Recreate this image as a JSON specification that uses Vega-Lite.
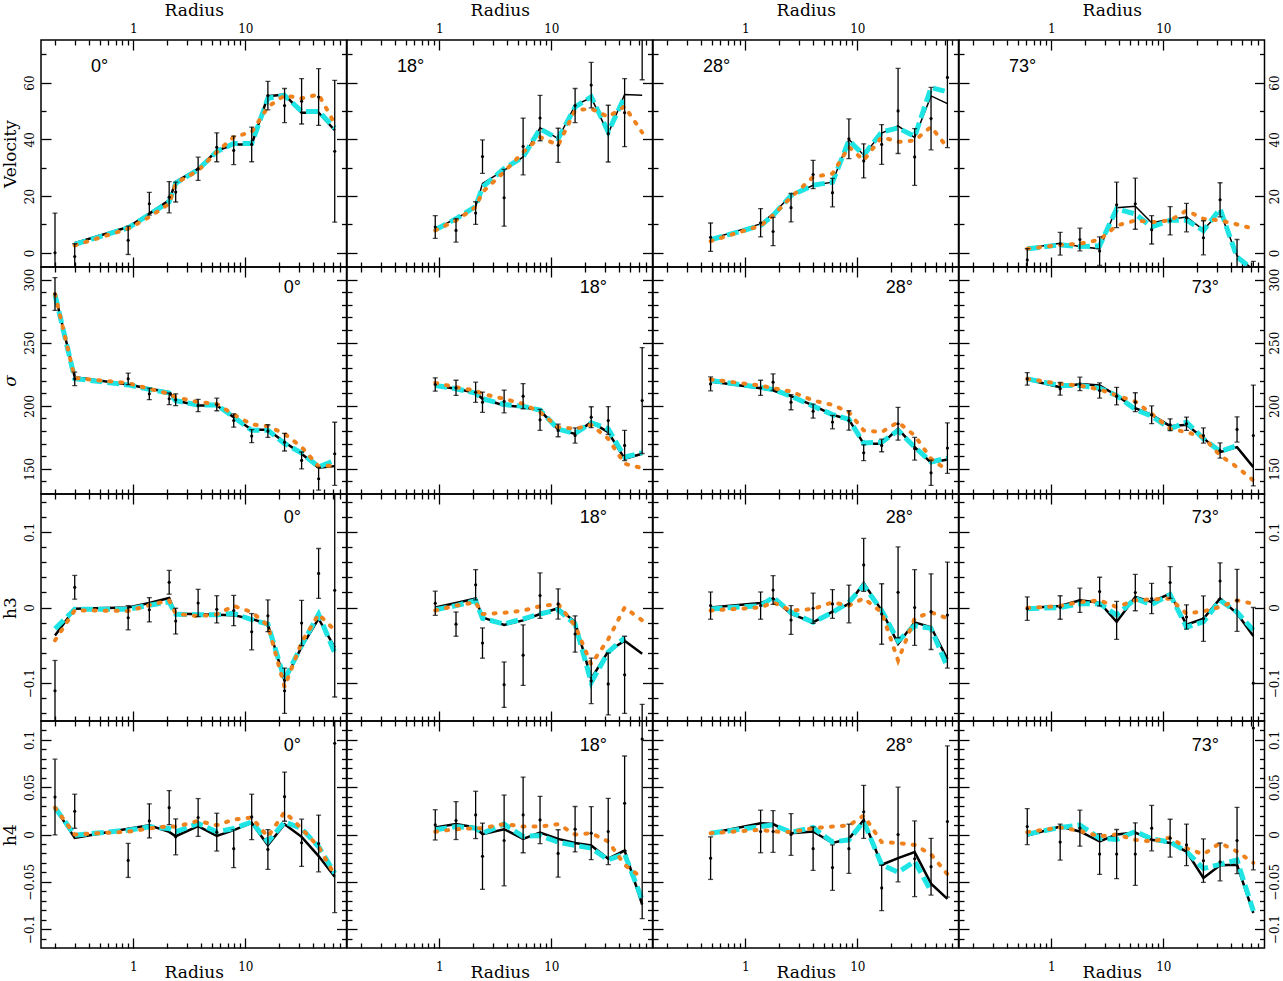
{
"$schema": "https://vega.github.io/schema/vega-lite/v6.json",
"background": "white",
"padding": {"left": 0, "top": 0, "right": 0, "bottom": 0},
"columns": 4,
"spacing": 0,
"bounds": "flush",
"datasets": {"d": [
{"a":"0","q":"v","r":0.2,"y":0,"e":14,"k":null,"c":null,"o":null},
{"a":"0","q":"v","r":0.3,"y":-1.3,"e":4.5,"k":3.4,"c":3.0,"o":2.6},
{"a":"0","q":"v","r":0.9,"y":4.4,"e":5,"k":9.1,"c":8.8,"o":8.5},
{"a":"0","q":"v","r":1.39,"y":17.3,"e":4,"k":13.8,"c":13.5,"o":12.6},
{"a":"0","q":"v","r":2.09,"y":19.6,"e":5.5,"k":18.5,"c":18,"o":17.3},
{"a":"0","q":"v","r":2.39,"y":21.4,"e":3.5,"k":25,"c":24.5,"o":24.5},
{"a":"0","q":"v","r":3.79,"y":29.6,"e":4.1,"k":29.6,"c":29.3,"o":29},
{"a":"0","q":"v","r":5.56,"y":37.2,"e":5.1,"k":35.9,"c":35.7,"o":35.5},
{"a":"0","q":"v","r":7.88,"y":36.1,"e":5,"k":38.2,"c":38.5,"o":40.8},
{"a":"0","q":"v","r":11.4,"y":38.2,"e":6.1,"k":38.2,"c":38.5,"o":42.6},
{"a":"0","q":"v","r":15.9,"y":55.4,"e":5,"k":55.2,"c":54.5,"o":51.4},
{"a":"0","q":"v","r":22.4,"y":51.9,"e":6,"k":55.8,"c":55.5,"o":55.5},
{"a":"0","q":"v","r":31.8,"y":53.4,"e":8,"k":49.4,"c":49.8,"o":54.4},
{"a":"0","q":"v","r":45.1,"y":54.9,"e":10,"k":49.4,"c":49.8,"o":55.8},
{"a":"0","q":"v","r":62.8,"y":35.8,"e":25,"k":43.2,"c":44,"o":45.5},
{"a":"0","q":"s","r":0.2,"y":288.6,"e":13,"k":288.6,"c":288,"o":288.6},
{"a":"0","q":"s","r":0.3,"y":221.3,"e":5.3,"k":222.6,"c":221.5,"o":222},
{"a":"0","q":"s","r":0.9,"y":221.3,"e":4.6,"k":216.8,"c":216.5,"o":217.9},
{"a":"0","q":"s","r":1.39,"y":209.4,"e":4.6,"k":213.4,"c":213,"o":213.4},
{"a":"0","q":"s","r":2.09,"y":205.5,"e":4.6,"k":210.7,"c":210,"o":209.4},
{"a":"0","q":"s","r":2.39,"y":204.7,"e":4.7,"k":204.1,"c":204,"o":206.8},
{"a":"0","q":"s","r":3.79,"y":200.2,"e":4.9,"k":200.2,"c":200.5,"o":202.8},
{"a":"0","q":"s","r":5.56,"y":201,"e":5,"k":200.2,"c":200.5,"o":201.5},
{"a":"0","q":"s","r":7.88,"y":188.3,"e":5.3,"k":190.9,"c":191,"o":193},
{"a":"0","q":"s","r":11.4,"y":175.9,"e":5.2,"k":180.9,"c":180.5,"o":185.1},
{"a":"0","q":"s","r":15.9,"y":179.9,"e":5,"k":180.9,"c":180.5,"o":183.8},
{"a":"0","q":"s","r":22.4,"y":171.1,"e":7,"k":171.1,"c":170,"o":177.7},
{"a":"0","q":"s","r":31.8,"y":156.6,"e":6.7,"k":161.9,"c":162.5,"o":167.2},
{"a":"0","q":"s","r":45.1,"y":142.1,"e":9,"k":150.8,"c":151.5,"o":151.9},
{"a":"0","q":"s","r":62.8,"y":161.9,"e":25,"k":152.1,"c":156.6,"o":152.7},
{"a":"0","q":"h3","r":0.2,"y":-0.11,"e":0.04,"k":-0.0369,"c":-0.028,"o":-0.0435},
{"a":"0","q":"h3","r":0.3,"y":0.0267,"e":0.0157,"k":-0.0015,"c":-0.0024,"o":-0.0037},
{"a":"0","q":"h3","r":0.9,"y":-0.0135,"e":0.016,"k":0,"c":-0.0024,"o":-0.0046},
{"a":"0","q":"h3","r":1.39,"y":-0.003,"e":0.016,"k":0.006,"c":0.003,"o":0.003},
{"a":"0","q":"h3","r":2.09,"y":0.0333,"e":0.0157,"k":0.0126,"c":0.0073,"o":0.0095},
{"a":"0","q":"h3","r":2.39,"y":-0.018,"e":0.017,"k":-0.008,"c":-0.009,"o":-0.008},
{"a":"0","q":"h3","r":3.79,"y":0.006,"e":0.018,"k":-0.009,"c":-0.0095,"o":-0.0117},
{"a":"0","q":"h3","r":5.56,"y":-0.0024,"e":0.018,"k":-0.0095,"c":-0.0095,"o":-0.009},
{"a":"0","q":"h3","r":7.88,"y":-0.004,"e":0.02,"k":-0.0104,"c":-0.008,"o":0.002},
{"a":"0","q":"h3","r":11.4,"y":-0.032,"e":0.024,"k":-0.015,"c":-0.016,"o":-0.006},
{"a":"0","q":"h3","r":15.9,"y":-0.011,"e":0.021,"k":-0.022,"c":-0.022,"o":-0.0236},
{"a":"0","q":"h3","r":22.4,"y":-0.11,"e":0.03,"k":-0.097,"c":-0.0955,"o":-0.105},
{"a":"0","q":"h3","r":31.8,"y":-0.0205,"e":0.03,"k":-0.052,"c":-0.05,"o":-0.046},
{"a":"0","q":"h3","r":45.1,"y":0.045,"e":0.033,"k":-0.0148,"c":-0.009,"o":-0.009},
{"a":"0","q":"h3","r":62.8,"y":0.0227,"e":0.141,"k":-0.053,"c":-0.06,"o":-0.03},
{"a":"0","q":"h4","r":0.2,"y":0.0396,"e":0.04,"k":0.0284,"c":0.0284,"o":0.0284},
{"a":"0","q":"h4","r":0.3,"y":0.0246,"e":0.018,"k":-0.0035,"c":-0.0007,"o":0},
{"a":"0","q":"h4","r":0.9,"y":-0.0274,"e":0.018,"k":0.006,"c":0.0046,"o":0.003},
{"a":"0","q":"h4","r":1.39,"y":0.0144,"e":0.018,"k":0.0098,"c":0.0081,"o":0.0063},
{"a":"0","q":"h4","r":2.09,"y":0.0284,"e":0.018,"k":0.0028,"c":0.0063,"o":0.0088},
{"a":"0","q":"h4","r":2.39,"y":-0.0025,"e":0.019,"k":-0.0018,"c":0.0028,"o":0.0081},
{"a":"0","q":"h4","r":3.79,"y":0.018,"e":0.02,"k":0.0088,"c":0.0116,"o":0.0144},
{"a":"0","q":"h4","r":5.56,"y":0.0025,"e":0.02,"k":-0.0014,"c":0.0028,"o":0.0098},
{"a":"0","q":"h4","r":7.88,"y":-0.015,"e":0.02,"k":0.0046,"c":0.0063,"o":0.0158},
{"a":"0","q":"h4","r":11.4,"y":0.0186,"e":0.024,"k":0.0123,"c":0.0133,"o":0.018},
{"a":"0","q":"h4","r":15.9,"y":-0.0158,"e":0.021,"k":-0.0112,"c":-0.0077,"o":-0.0025},
{"a":"0","q":"h4","r":22.4,"y":0.04,"e":0.026,"k":0.0109,"c":0.0133,"o":0.0239},
{"a":"0","q":"h4","r":31.8,"y":-0.0088,"e":0.025,"k":-0.0025,"c":0.0063,"o":0.0063},
{"a":"0","q":"h4","r":45.1,"y":-0.0095,"e":0.03,"k":-0.0228,"c":-0.013,"o":-0.013},
{"a":"0","q":"h4","r":62.8,"y":0.0965,"e":0.179,"k":-0.0446,"c":-0.041,"o":-0.043},
{"a":"18","q":"v","r":0.92,"y":9.1,"e":4,"k":8.5,"c":8.1,"o":7.9},
{"a":"18","q":"v","r":1.41,"y":7.9,"e":4.1,"k":12,"c":12,"o":11.4},
{"a":"18","q":"v","r":2.11,"y":14,"e":4,"k":16.1,"c":16.3,"o":16.1},
{"a":"18","q":"v","r":2.43,"y":33.9,"e":5.9,"k":24.4,"c":23.2,"o":21.4},
{"a":"18","q":"v","r":3.79,"y":19.4,"e":10,"k":29.1,"c":29.7,"o":28.5},
{"a":"18","q":"v","r":5.6,"y":37.5,"e":10,"k":33.8,"c":33.8,"o":35.5},
{"a":"18","q":"v","r":7.93,"y":47.5,"e":8,"k":44.1,"c":43.7,"o":40.8},
{"a":"18","q":"v","r":11.5,"y":37.9,"e":6,"k":40.2,"c":40.2,"o":37.9},
{"a":"18","q":"v","r":16.3,"y":51.9,"e":6,"k":52,"c":51.4,"o":50.2},
{"a":"18","q":"v","r":22.7,"y":59.1,"e":8,"k":54.7,"c":55,"o":50.8},
{"a":"18","q":"v","r":32.2,"y":42,"e":10,"k":42,"c":42.6,"o":47.9},
{"a":"18","q":"v","r":45.1,"y":49.4,"e":12,"k":55.8,"c":55,"o":51.6},
{"a":"18","q":"v","r":64.7,"y":80,"e":19,"k":55.5,"c":null,"o":42.4},
{"a":"18","q":"s","r":0.92,"y":216.8,"e":5.3,"k":216,"c":216,"o":218.1},
{"a":"18","q":"s","r":1.41,"y":214.2,"e":6,"k":213.4,"c":213.5,"o":214.7},
{"a":"18","q":"s","r":2.11,"y":210.7,"e":8,"k":210.2,"c":210,"o":212},
{"a":"18","q":"s","r":2.43,"y":202.8,"e":8,"k":205.5,"c":205.5,"o":209.4},
{"a":"18","q":"s","r":3.79,"y":203.4,"e":9,"k":200.2,"c":201,"o":205.5},
{"a":"18","q":"s","r":5.6,"y":207.6,"e":10,"k":198.9,"c":199.5,"o":201.5},
{"a":"18","q":"s","r":7.93,"y":188.8,"e":8.3,"k":196.2,"c":196.5,"o":194.9},
{"a":"18","q":"s","r":11.5,"y":180.4,"e":5,"k":181.2,"c":181.5,"o":183},
{"a":"18","q":"s","r":16.3,"y":176.4,"e":6,"k":177.7,"c":178,"o":181.7},
{"a":"18","q":"s","r":22.7,"y":190.9,"e":8.3,"k":187,"c":186.5,"o":184.9},
{"a":"18","q":"s","r":32.2,"y":188.3,"e":11,"k":179.1,"c":181.7,"o":173.8},
{"a":"18","q":"s","r":45.1,"y":168.5,"e":12,"k":158,"c":159.3,"o":154},
{"a":"18","q":"s","r":64.7,"y":204.1,"e":42,"k":161.9,"c":162.7,"o":150.5},
{"a":"18","q":"h3","r":0.92,"y":0.0056,"e":0.016,"k":0,"c":-0.003,"o":-0.004},
{"a":"18","q":"h3","r":1.41,"y":-0.022,"e":0.016,"k":0.006,"c":0.0025,"o":0.0025},
{"a":"18","q":"h3","r":2.11,"y":0.03,"e":0.02,"k":0.012,"c":0.009,"o":0.0069},
{"a":"18","q":"h3","r":2.43,"y":-0.047,"e":0.02,"k":-0.013,"c":-0.0143,"o":-0.0086},
{"a":"18","q":"h3","r":3.79,"y":-0.102,"e":0.03,"k":-0.023,"c":-0.0218,"o":-0.007},
{"a":"18","q":"h3","r":5.6,"y":-0.063,"e":0.04,"k":-0.017,"c":-0.015,"o":-0.004},
{"a":"18","q":"h3","r":7.93,"y":0.0157,"e":0.03,"k":-0.0086,"c":-0.0086,"o":0.0016},
{"a":"18","q":"h3","r":11.5,"y":0.0047,"e":0.02,"k":-0.001,"c":-0.0028,"o":0.0047},
{"a":"18","q":"h3","r":16.3,"y":-0.035,"e":0.024,"k":-0.019,"c":-0.022,"o":-0.024},
{"a":"18","q":"h3","r":22.7,"y":-0.097,"e":0.03,"k":-0.094,"c":-0.099,"o":-0.075},
{"a":"18","q":"h3","r":32.2,"y":-0.101,"e":0.041,"k":-0.058,"c":-0.059,"o":-0.042},
{"a":"18","q":"h3","r":45.1,"y":-0.089,"e":0.051,"k":-0.044,"c":-0.04,"o":0},
{"a":"18","q":"h3","r":64.7,"y":-0.2,"e":0.072,"k":-0.061,"c":null,"o":-0.017},
{"a":"18","q":"h4","r":0.92,"y":0.0102,"e":0.016,"k":0.0074,"c":0.005,"o":0.003},
{"a":"18","q":"h4","r":1.41,"y":0.0147,"e":0.02,"k":0.011,"c":0.0084,"o":0.0056},
{"a":"18","q":"h4","r":2.11,"y":0.0207,"e":0.025,"k":0.0074,"c":0.0067,"o":0.0067},
{"a":"18","q":"h4","r":2.43,"y":-0.023,"e":0.035,"k":0.0004,"c":0.0014,"o":0.0067},
{"a":"18","q":"h4","r":3.79,"y":-0.0063,"e":0.048,"k":0.0056,"c":0.011,"o":0.011},
{"a":"18","q":"h4","r":5.6,"y":0.0207,"e":0.04,"k":-0.0046,"c":-0.0021,"o":0.0084},
{"a":"18","q":"h4","r":7.93,"y":0.0154,"e":0.025,"k":0.002,"c":-0.0011,"o":0.0084},
{"a":"18","q":"h4","r":11.5,"y":-0.02,"e":0.025,"k":-0.0046,"c":-0.0081,"o":0.011},
{"a":"18","q":"h4","r":16.3,"y":0.0056,"e":0.024,"k":-0.009,"c":-0.0116,"o":0},
{"a":"18","q":"h4","r":22.7,"y":0.0014,"e":0.028,"k":-0.0116,"c":-0.0144,"o":0.0014},
{"a":"18","q":"h4","r":32.2,"y":0.0032,"e":0.035,"k":-0.0256,"c":-0.0267,"o":-0.0074},
{"a":"18","q":"h4","r":45.1,"y":0.033,"e":0.05,"k":-0.017,"c":-0.0207,"o":-0.032},
{"a":"18","q":"h4","r":64.7,"y":0.101,"e":0.19,"k":-0.074,"c":-0.069,"o":-0.046},
{"a":"28","q":"v","r":0.49,"y":5.5,"e":5,"k":4.9,"c":4.6,"o":4.1},
{"a":"28","q":"v","r":1.37,"y":10.6,"e":5,"k":10.2,"c":9.6,"o":9.6},
{"a":"28","q":"v","r":1.77,"y":7.5,"e":5,"k":13.8,"c":13.2,"o":13.2},
{"a":"28","q":"v","r":2.56,"y":15.9,"e":5,"k":20.2,"c":20.2,"o":19.6},
{"a":"28","q":"v","r":4.03,"y":27.6,"e":5,"k":23.8,"c":23.8,"o":26.7},
{"a":"28","q":"v","r":6.0,"y":21.2,"e":5,"k":24.9,"c":24.9,"o":27.9},
{"a":"28","q":"v","r":8.41,"y":40.2,"e":7,"k":40,"c":39.6,"o":37.3},
{"a":"28","q":"v","r":11.4,"y":32.4,"e":6,"k":34.4,"c":34.4,"o":32.6},
{"a":"28","q":"v","r":16.5,"y":38.2,"e":7,"k":42.2,"c":42.6,"o":40.8},
{"a":"28","q":"v","r":23.1,"y":50,"e":15,"k":44.7,"c":44,"o":39.1},
{"a":"28","q":"v","r":32.5,"y":33.8,"e":10,"k":40.6,"c":41,"o":39.6},
{"a":"28","q":"v","r":45.5,"y":47.3,"e":11,"k":55.3,"c":58.2,"o":44.4},
{"a":"28","q":"v","r":63.7,"y":61.8,"e":24.7,"k":52.6,"c":56.7,"o":37.1},
{"a":"28","q":"s","r":0.49,"y":217.3,"e":5.5,"k":219.2,"c":220,"o":220.8},
{"a":"28","q":"s","r":1.37,"y":214.2,"e":6,"k":213.9,"c":214.5,"o":216},
{"a":"28","q":"s","r":1.77,"y":218.7,"e":6.5,"k":212.1,"c":212.9,"o":213.9},
{"a":"28","q":"s","r":2.56,"y":202.8,"e":6,"k":207.6,"c":207.6,"o":211.3},
{"a":"28","q":"s","r":4.03,"y":195.7,"e":5.5,"k":200.2,"c":199.7,"o":204.1},
{"a":"28","q":"s","r":6.0,"y":187,"e":5.3,"k":192.8,"c":193,"o":200.7},
{"a":"28","q":"s","r":8.41,"y":188.3,"e":7.7,"k":189.1,"c":189.1,"o":194.9},
{"a":"28","q":"s","r":11.4,"y":162.7,"e":6.3,"k":169.8,"c":170.4,"o":180.4},
{"a":"28","q":"s","r":16.5,"y":168.5,"e":5,"k":169.8,"c":171.1,"o":179.1},
{"a":"28","q":"s","r":23.1,"y":185.7,"e":13,"k":181.7,"c":180.4,"o":187},
{"a":"28","q":"s","r":32.5,"y":165.9,"e":9,"k":167.2,"c":167.2,"o":176.4},
{"a":"28","q":"s","r":45.5,"y":146.8,"e":10,"k":154.8,"c":155.4,"o":158},
{"a":"28","q":"s","r":63.7,"y":166.4,"e":20,"k":157.4,"c":158.5,"o":148.7},
{"a":"28","q":"h3","r":0.49,"y":0.0025,"e":0.018,"k":0,"c":-0.002,"o":-0.004},
{"a":"28","q":"h3","r":1.37,"y":0.0025,"e":0.018,"k":0.006,"c":0.0025,"o":0},
{"a":"28","q":"h3","r":1.77,"y":0.023,"e":0.019,"k":0.012,"c":0.0135,"o":0.0069},
{"a":"28","q":"h3","r":2.56,"y":-0.0166,"e":0.019,"k":-0.0086,"c":-0.0064,"o":-0.004},
{"a":"28","q":"h3","r":4.03,"y":-0.001,"e":0.02,"k":-0.0196,"c":-0.0196,"o":-0.002},
{"a":"28","q":"h3","r":6.0,"y":0.0047,"e":0.019,"k":-0.0055,"c":-0.0064,"o":0.0069},
{"a":"28","q":"h3","r":8.41,"y":0.0047,"e":0.025,"k":0.0047,"c":0.0069,"o":0.0025},
{"a":"28","q":"h3","r":11.4,"y":0.0563,"e":0.035,"k":0.0325,"c":0.029,"o":0.0122},
{"a":"28","q":"h3","r":16.5,"y":-0.0086,"e":0.04,"k":-0.004,"c":-0.004,"o":-0.0064},
{"a":"28","q":"h3","r":23.1,"y":0.02,"e":0.06,"k":-0.048,"c":-0.044,"o":-0.07},
{"a":"28","q":"h3","r":32.5,"y":0,"e":0.05,"k":-0.0196,"c":-0.024,"o":-0.0143},
{"a":"28","q":"h3","r":45.5,"y":-0.0055,"e":0.05,"k":-0.026,"c":-0.0276,"o":-0.0064},
{"a":"28","q":"h3","r":63.7,"y":-0.01,"e":0.07,"k":-0.068,"c":-0.079,"o":-0.0143},
{"a":"28","q":"h4","r":0.49,"y":-0.025,"e":0.0225,"k":0.0014,"c":0.0014,"o":0.0014},
{"a":"28","q":"h4","r":1.37,"y":0.0032,"e":0.0225,"k":0.012,"c":0.0084,"o":0.005},
{"a":"28","q":"h4","r":1.77,"y":0.0032,"e":0.022,"k":0.011,"c":0.0102,"o":0.0032},
{"a":"28","q":"h4","r":2.56,"y":0,"e":0.022,"k":0.0014,"c":0.0025,"o":0.0025},
{"a":"28","q":"h4","r":4.03,"y":-0.015,"e":0.023,"k":0.0032,"c":0.0074,"o":0.0067},
{"a":"28","q":"h4","r":6.0,"y":-0.035,"e":0.024,"k":-0.009,"c":-0.008,"o":0.0084},
{"a":"28","q":"h4","r":8.41,"y":-0.015,"e":0.026,"k":-0.0046,"c":-0.0056,"o":0.0095},
{"a":"28","q":"h4","r":11.4,"y":0.024,"e":0.028,"k":0.0154,"c":0.0137,"o":0.02},
{"a":"28","q":"h4","r":16.5,"y":-0.0565,"e":0.024,"k":-0.032,"c":-0.032,"o":-0.008},
{"a":"28","q":"h4","r":23.1,"y":0,"e":0.05,"k":-0.025,"c":-0.04,"o":-0.009},
{"a":"28","q":"h4","r":32.5,"y":-0.0256,"e":0.04,"k":-0.0186,"c":-0.0284,"o":-0.011},
{"a":"28","q":"h4","r":45.5,"y":-0.034,"e":0.03,"k":-0.052,"c":-0.06,"o":-0.021},
{"a":"28","q":"h4","r":63.7,"y":0.0137,"e":0.08,"k":-0.068,"c":null,"o":-0.042},
{"a":"73","q":"v","r":0.61,"y":-2.5,"e":4,"k":1.6,"c":1.4,"o":1.4},
{"a":"73","q":"v","r":1.2,"y":3.2,"e":4,"k":3.4,"c":2.8,"o":2.8},
{"a":"73","q":"v","r":1.8,"y":4.7,"e":4,"k":2.2,"c":2.2,"o":3.2},
{"a":"73","q":"v","r":2.7,"y":0.6,"e":5,"k":1.4,"c":2.5,"o":4.6},
{"a":"73","q":"v","r":3.83,"y":16.9,"e":8,"k":15.9,"c":15.5,"o":9.6},
{"a":"73","q":"v","r":5.62,"y":17.3,"e":9,"k":16.4,"c":13.7,"o":11.4},
{"a":"73","q":"v","r":7.87,"y":8.1,"e":5,"k":10.6,"c":9.1,"o":10.8},
{"a":"73","q":"v","r":11.5,"y":11.3,"e":5,"k":11.8,"c":11.5,"o":11.4},
{"a":"73","q":"v","r":16.1,"y":12.4,"e":5,"k":12.6,"c":11.5,"o":14.9},
{"a":"73","q":"v","r":22.8,"y":5.3,"e":6,"k":8.1,"c":7.8,"o":12},
{"a":"73","q":"v","r":32.1,"y":18.7,"e":6,"k":14.4,"c":15.5,"o":11.4},
{"a":"73","q":"v","r":45.5,"y":-6,"e":10.7,"k":-1,"c":-1.5,"o":10},
{"a":"73","q":"v","r":63.6,"y":-6,"e":3,"k":-6,"c":-6,"o":8.5},
{"a":"73","q":"s","r":0.61,"y":221.3,"e":5,"k":220.8,"c":221.3,"o":221.3},
{"a":"73","q":"s","r":1.2,"y":213.4,"e":5,"k":214.7,"c":216,"o":217.3},
{"a":"73","q":"s","r":1.8,"y":217.3,"e":5.3,"k":217.3,"c":216,"o":216},
{"a":"73","q":"s","r":2.7,"y":212.1,"e":6,"k":216,"c":213.9,"o":212.9},
{"a":"73","q":"s","r":3.83,"y":207.6,"e":7,"k":208.1,"c":208.1,"o":208.1},
{"a":"73","q":"s","r":5.62,"y":202.8,"e":7.5,"k":198,"c":197,"o":203.4},
{"a":"73","q":"s","r":7.87,"y":192.8,"e":7,"k":192.8,"c":191.7,"o":193.6},
{"a":"73","q":"s","r":11.5,"y":184.9,"e":4.7,"k":183.8,"c":181.7,"o":181.7},
{"a":"73","q":"s","r":16.1,"y":185.7,"e":5.3,"k":184.9,"c":187,"o":179.1},
{"a":"73","q":"s","r":22.8,"y":176.4,"e":6,"k":174.3,"c":173.8,"o":175.1},
{"a":"73","q":"s","r":32.1,"y":164.5,"e":6,"k":163.2,"c":163.7,"o":160.6},
{"a":"73","q":"s","r":45.5,"y":181.2,"e":10,"k":167.2,"c":168.5,"o":151.3},
{"a":"73","q":"s","r":63.6,"y":176.4,"e":40,"k":151.3,"c":null,"o":140.8},
{"a":"73","q":"h3","r":0.61,"y":-0.0015,"e":0.0155,"k":-0.0006,"c":-0.0015,"o":-0.0006},
{"a":"73","q":"h3","r":1.2,"y":0,"e":0.0155,"k":0.002,"c":0,"o":0.002},
{"a":"73","q":"h3","r":1.8,"y":0.0095,"e":0.016,"k":0.0095,"c":0.005,"o":0.0073},
{"a":"73","q":"h3","r":2.7,"y":0.021,"e":0.019,"k":0.0064,"c":0.005,"o":0.0095},
{"a":"73","q":"h3","r":3.83,"y":-0.017,"e":0.025,"k":-0.019,"c":-0.01,"o":0.0007},
{"a":"73","q":"h3","r":5.62,"y":0.0197,"e":0.024,"k":0.014,"c":0.0117,"o":0.0095},
{"a":"73","q":"h3","r":7.87,"y":0.0118,"e":0.02,"k":0.0073,"c":0.0038,"o":0.0108},
{"a":"73","q":"h3","r":11.5,"y":0.033,"e":0.021,"k":0.0184,"c":0.017,"o":0.0117},
{"a":"73","q":"h3","r":16.1,"y":-0.0125,"e":0.016,"k":-0.0227,"c":-0.026,"o":-0.0081},
{"a":"73","q":"h3","r":22.8,"y":-0.0147,"e":0.03,"k":-0.0148,"c":-0.019,"o":-0.005},
{"a":"73","q":"h3","r":32.1,"y":0.035,"e":0.024,"k":0.0117,"c":0.0095,"o":0.0007},
{"a":"73","q":"h3","r":45.5,"y":0.0095,"e":0.041,"k":-0.0081,"c":-0.006,"o":0.0095},
{"a":"73","q":"h3","r":63.6,"y":-0.1,"e":0.1,"k":-0.0377,"c":-0.03,"o":0.005},
{"a":"73","q":"h4","r":0.61,"y":0.0084,"e":0.019,"k":-0.001,"c":0.0004,"o":0.0025},
{"a":"73","q":"h4","r":1.2,"y":-0.008,"e":0.019,"k":0.0084,"c":0.0074,"o":0.0074},
{"a":"73","q":"h4","r":1.8,"y":0.0067,"e":0.019,"k":0.0032,"c":0.01,"o":0.0039},
{"a":"73","q":"h4","r":2.7,"y":-0.0207,"e":0.0215,"k":-0.0074,"c":-0.004,"o":-0.002},
{"a":"73","q":"h4","r":3.83,"y":-0.0207,"e":0.026,"k":0,"c":-0.0053,"o":0},
{"a":"73","q":"h4","r":5.62,"y":-0.0207,"e":0.033,"k":0.002,"c":0.0032,"o":-0.0056},
{"a":"73","q":"h4","r":7.87,"y":0.0067,"e":0.024,"k":-0.0056,"c":-0.0046,"o":-0.0074},
{"a":"73","q":"h4","r":11.5,"y":-0.0039,"e":0.02,"k":-0.009,"c":-0.008,"o":-0.0032},
{"a":"73","q":"h4","r":16.1,"y":-0.011,"e":0.022,"k":-0.018,"c":-0.018,"o":-0.0144},
{"a":"73","q":"h4","r":22.8,"y":-0.0277,"e":0.023,"k":-0.046,"c":-0.036,"o":-0.021},
{"a":"73","q":"h4","r":32.1,"y":-0.029,"e":0.02,"k":-0.0326,"c":-0.0316,"o":-0.009},
{"a":"73","q":"h4","r":45.5,"y":-0.0063,"e":0.035,"k":-0.032,"c":-0.027,"o":-0.018},
{"a":"73","q":"h4","r":63.6,"y":0.1126,"e":0.15,"k":-0.083,"c":-0.081,"o":-0.03}
]},
"data": {"name": "d"},
"concat": [
{"width":305.5,"height":227,"transform":[{"filter":"datum.a=='0'&&datum.q=='v'"}],"resolve":{"axis":{"x":"independent","y":"independent"}},"layer":[
{"mark":{"type":"line","color":"black","strokeWidth":2.5,"clip":true},"encoding":{"x":{"field":"r","type":"quantitative","scale":{"type":"log","domain":[0.15,80],"nice":false},"axis":{"orient":"bottom","values":[0.2,0.3,0.4,0.5,0.6,0.7,0.8,0.9,1,2,3,4,5,6,7,8,9,10,20,30,40,50,60,70],"labels":false,"title":null,"tickSize":{"condition":{"test":"datum.value==1||datum.value==10","value":-10},"value":-5}}},"y":{"field":"k","type":"quantitative","scale":{"domain":[-5,75],"nice":false,"zero":false},"axis":{"orient":"left","values":[0,10,20,30,40,50,60,70],"labels":false,"title":null,"tickSize":{"condition":{"test":"datum.value%20==0","value":-10},"value":-5}}}}},
{"mark":{"type":"line","color":"#1ee4e4","strokeWidth":5,"strokeDash":[12,5],"clip":true},"encoding":{"x":{"field":"r","type":"quantitative","scale":{"type":"log","domain":[0.15,80],"nice":false},"axis":{"orient":"top","values":[0.2,0.3,0.4,0.5,0.6,0.7,0.8,0.9,1,2,3,4,5,6,7,8,9,10,20,30,40,50,60,70],"labels":false,"title":null,"tickSize":{"condition":{"test":"datum.value==1||datum.value==10","value":-10},"value":-5}}},"y":{"field":"c","type":"quantitative","scale":{"domain":[-5,75],"nice":false,"zero":false},"axis":{"orient":"right","values":[0,10,20,30,40,50,60,70],"labels":false,"title":null,"tickSize":{"condition":{"test":"datum.value%20==0","value":-10},"value":-5}}}}},
{"mark":{"type":"line","color":"#f0821e","strokeWidth":4,"strokeDash":[2,9],"strokeCap":"round","clip":true},"encoding":{"x":{"field":"r","type":"quantitative","scale":{"type":"log","domain":[0.15,80],"nice":false},"axis":{"orient":"top","values":[1,10],"labelExpr":"format(datum.value,'~g')","ticks":false,"title":"Radius","labelPadding":5,"titlePadding":2.5}},"y":{"field":"o","type":"quantitative","scale":{"domain":[-5,75],"nice":false,"zero":false},"axis":{"orient":"left","values":[0,20,40,60],"labelExpr":"format(datum.value,'~g')","ticks":false,"title":"Velocity","labelAngle":-90,"labelAlign":"center","labelBaseline":"bottom","labelPadding":5,"titlePadding":4}}}},
{"mark":{"type":"errorbar","color":"black","thickness":1.3,"ticks":{"size":5},"clip":true},"encoding":{"x":{"field":"r","type":"quantitative","scale":{"type":"log","domain":[0.15,80],"nice":false},"axis":null},"y":{"field":"y","type":"quantitative","scale":{"domain":[-5,75],"nice":false,"zero":false},"axis":null},"yError":{"field":"e"}}},
{"mark":{"type":"point","filled":true,"color":"black","size":10,"opacity":1,"clip":true},"encoding":{"x":{"field":"r","type":"quantitative","scale":{"type":"log","domain":[0.15,80],"nice":false},"axis":null},"y":{"field":"y","type":"quantitative","scale":{"domain":[-5,75],"nice":false,"zero":false},"axis":null}}},
{"data":{"values":[{"a":"0","q":"v","lab":"0°"}]},"mark":{"type":"text","font":"Liberation Sans","fontSize":18,"align":"left","baseline":"alphabetic","color":"black"},"encoding":{"x":{"datum":0.42,"type":"quantitative","scale":{"type":"log","domain":[0.15,80],"nice":false},"axis":null},"y":{"datum":63.7,"type":"quantitative","scale":{"domain":[-5,75],"nice":false,"zero":false},"axis":null},"text":{"field":"lab"}}}
]},
{"width":305.5,"height":227,"transform":[{"filter":"datum.a=='18'&&datum.q=='v'"}],"resolve":{"axis":{"x":"independent","y":"independent"}},"layer":[
{"mark":{"type":"line","color":"black","strokeWidth":1.5,"clip":true},"encoding":{"x":{"field":"r","type":"quantitative","scale":{"type":"log","domain":[0.15,80],"nice":false},"axis":{"orient":"bottom","values":[0.2,0.3,0.4,0.5,0.6,0.7,0.8,0.9,1,2,3,4,5,6,7,8,9,10,20,30,40,50,60,70],"labels":false,"title":null,"tickSize":{"condition":{"test":"datum.value==1||datum.value==10","value":-10},"value":-5}}},"y":{"field":"k","type":"quantitative","scale":{"domain":[-5,75],"nice":false,"zero":false},"axis":{"orient":"left","values":[0,10,20,30,40,50,60,70],"labels":false,"title":null,"tickSize":{"condition":{"test":"datum.value%20==0","value":-10},"value":-5}}}}},
{"mark":{"type":"line","color":"#1ee4e4","strokeWidth":5,"strokeDash":[12,5],"clip":true},"encoding":{"x":{"field":"r","type":"quantitative","scale":{"type":"log","domain":[0.15,80],"nice":false},"axis":{"orient":"top","values":[0.2,0.3,0.4,0.5,0.6,0.7,0.8,0.9,1,2,3,4,5,6,7,8,9,10,20,30,40,50,60,70],"labels":false,"title":null,"tickSize":{"condition":{"test":"datum.value==1||datum.value==10","value":-10},"value":-5}}},"y":{"field":"c","type":"quantitative","scale":{"domain":[-5,75],"nice":false,"zero":false},"axis":{"orient":"right","values":[0,10,20,30,40,50,60,70],"labels":false,"title":null,"tickSize":{"condition":{"test":"datum.value%20==0","value":-10},"value":-5}}}}},
{"mark":{"type":"line","color":"#f0821e","strokeWidth":4,"strokeDash":[2,9],"strokeCap":"round","clip":true},"encoding":{"x":{"field":"r","type":"quantitative","scale":{"type":"log","domain":[0.15,80],"nice":false},"axis":{"orient":"top","values":[1,10],"labelExpr":"format(datum.value,'~g')","ticks":false,"title":"Radius","labelPadding":5,"titlePadding":2.5}},"y":{"field":"o","type":"quantitative","scale":{"domain":[-5,75],"nice":false,"zero":false},"axis":null}}},
{"mark":{"type":"errorbar","color":"black","thickness":1.3,"ticks":{"size":5},"clip":true},"encoding":{"x":{"field":"r","type":"quantitative","scale":{"type":"log","domain":[0.15,80],"nice":false},"axis":null},"y":{"field":"y","type":"quantitative","scale":{"domain":[-5,75],"nice":false,"zero":false},"axis":null},"yError":{"field":"e"}}},
{"mark":{"type":"point","filled":true,"color":"black","size":10,"opacity":1,"clip":true},"encoding":{"x":{"field":"r","type":"quantitative","scale":{"type":"log","domain":[0.15,80],"nice":false},"axis":null},"y":{"field":"y","type":"quantitative","scale":{"domain":[-5,75],"nice":false,"zero":false},"axis":null}}},
{"data":{"values":[{"a":"18","q":"v","lab":"18°"}]},"mark":{"type":"text","font":"Liberation Sans","fontSize":18,"align":"left","baseline":"alphabetic","color":"black"},"encoding":{"x":{"datum":0.42,"type":"quantitative","scale":{"type":"log","domain":[0.15,80],"nice":false},"axis":null},"y":{"datum":63.7,"type":"quantitative","scale":{"domain":[-5,75],"nice":false,"zero":false},"axis":null},"text":{"field":"lab"}}}
]},
{"width":305.5,"height":227,"transform":[{"filter":"datum.a=='28'&&datum.q=='v'"}],"resolve":{"axis":{"x":"independent","y":"independent"}},"layer":[
{"mark":{"type":"line","color":"black","strokeWidth":1.5,"clip":true},"encoding":{"x":{"field":"r","type":"quantitative","scale":{"type":"log","domain":[0.15,80],"nice":false},"axis":{"orient":"bottom","values":[0.2,0.3,0.4,0.5,0.6,0.7,0.8,0.9,1,2,3,4,5,6,7,8,9,10,20,30,40,50,60,70],"labels":false,"title":null,"tickSize":{"condition":{"test":"datum.value==1||datum.value==10","value":-10},"value":-5}}},"y":{"field":"k","type":"quantitative","scale":{"domain":[-5,75],"nice":false,"zero":false},"axis":{"orient":"left","values":[0,10,20,30,40,50,60,70],"labels":false,"title":null,"tickSize":{"condition":{"test":"datum.value%20==0","value":-10},"value":-5}}}}},
{"mark":{"type":"line","color":"#1ee4e4","strokeWidth":5,"strokeDash":[12,5],"clip":true},"encoding":{"x":{"field":"r","type":"quantitative","scale":{"type":"log","domain":[0.15,80],"nice":false},"axis":{"orient":"top","values":[0.2,0.3,0.4,0.5,0.6,0.7,0.8,0.9,1,2,3,4,5,6,7,8,9,10,20,30,40,50,60,70],"labels":false,"title":null,"tickSize":{"condition":{"test":"datum.value==1||datum.value==10","value":-10},"value":-5}}},"y":{"field":"c","type":"quantitative","scale":{"domain":[-5,75],"nice":false,"zero":false},"axis":{"orient":"right","values":[0,10,20,30,40,50,60,70],"labels":false,"title":null,"tickSize":{"condition":{"test":"datum.value%20==0","value":-10},"value":-5}}}}},
{"mark":{"type":"line","color":"#f0821e","strokeWidth":4,"strokeDash":[2,9],"strokeCap":"round","clip":true},"encoding":{"x":{"field":"r","type":"quantitative","scale":{"type":"log","domain":[0.15,80],"nice":false},"axis":{"orient":"top","values":[1,10],"labelExpr":"format(datum.value,'~g')","ticks":false,"title":"Radius","labelPadding":5,"titlePadding":2.5}},"y":{"field":"o","type":"quantitative","scale":{"domain":[-5,75],"nice":false,"zero":false},"axis":null}}},
{"mark":{"type":"errorbar","color":"black","thickness":1.3,"ticks":{"size":5},"clip":true},"encoding":{"x":{"field":"r","type":"quantitative","scale":{"type":"log","domain":[0.15,80],"nice":false},"axis":null},"y":{"field":"y","type":"quantitative","scale":{"domain":[-5,75],"nice":false,"zero":false},"axis":null},"yError":{"field":"e"}}},
{"mark":{"type":"point","filled":true,"color":"black","size":10,"opacity":1,"clip":true},"encoding":{"x":{"field":"r","type":"quantitative","scale":{"type":"log","domain":[0.15,80],"nice":false},"axis":null},"y":{"field":"y","type":"quantitative","scale":{"domain":[-5,75],"nice":false,"zero":false},"axis":null}}},
{"data":{"values":[{"a":"28","q":"v","lab":"28°"}]},"mark":{"type":"text","font":"Liberation Sans","fontSize":18,"align":"left","baseline":"alphabetic","color":"black"},"encoding":{"x":{"datum":0.42,"type":"quantitative","scale":{"type":"log","domain":[0.15,80],"nice":false},"axis":null},"y":{"datum":63.7,"type":"quantitative","scale":{"domain":[-5,75],"nice":false,"zero":false},"axis":null},"text":{"field":"lab"}}}
]},
{"width":305.5,"height":227,"transform":[{"filter":"datum.a=='73'&&datum.q=='v'"}],"resolve":{"axis":{"x":"independent","y":"independent"}},"layer":[
{"mark":{"type":"line","color":"black","strokeWidth":1.5,"clip":true},"encoding":{"x":{"field":"r","type":"quantitative","scale":{"type":"log","domain":[0.15,80],"nice":false},"axis":{"orient":"bottom","values":[0.2,0.3,0.4,0.5,0.6,0.7,0.8,0.9,1,2,3,4,5,6,7,8,9,10,20,30,40,50,60,70],"labels":false,"title":null,"tickSize":{"condition":{"test":"datum.value==1||datum.value==10","value":-10},"value":-5}}},"y":{"field":"k","type":"quantitative","scale":{"domain":[-5,75],"nice":false,"zero":false},"axis":{"orient":"left","values":[0,10,20,30,40,50,60,70],"labels":false,"title":null,"tickSize":{"condition":{"test":"datum.value%20==0","value":-10},"value":-5}}}}},
{"mark":{"type":"line","color":"#1ee4e4","strokeWidth":5,"strokeDash":[12,5],"clip":true},"encoding":{"x":{"field":"r","type":"quantitative","scale":{"type":"log","domain":[0.15,80],"nice":false},"axis":{"orient":"top","values":[0.2,0.3,0.4,0.5,0.6,0.7,0.8,0.9,1,2,3,4,5,6,7,8,9,10,20,30,40,50,60,70],"labels":false,"title":null,"tickSize":{"condition":{"test":"datum.value==1||datum.value==10","value":-10},"value":-5}}},"y":{"field":"c","type":"quantitative","scale":{"domain":[-5,75],"nice":false,"zero":false},"axis":{"orient":"right","values":[0,10,20,30,40,50,60,70],"labels":false,"title":null,"tickSize":{"condition":{"test":"datum.value%20==0","value":-10},"value":-5}}}}},
{"mark":{"type":"line","color":"#f0821e","strokeWidth":4,"strokeDash":[2,9],"strokeCap":"round","clip":true},"encoding":{"x":{"field":"r","type":"quantitative","scale":{"type":"log","domain":[0.15,80],"nice":false},"axis":{"orient":"top","values":[1,10],"labelExpr":"format(datum.value,'~g')","ticks":false,"title":"Radius","labelPadding":5,"titlePadding":2.5}},"y":{"field":"o","type":"quantitative","scale":{"domain":[-5,75],"nice":false,"zero":false},"axis":{"orient":"right","values":[0,20,40,60],"labelExpr":"format(datum.value,'~g')","ticks":false,"title":null,"labelAngle":-90,"labelAlign":"center","labelBaseline":"top","labelPadding":5}}}},
{"mark":{"type":"errorbar","color":"black","thickness":1.3,"ticks":{"size":5},"clip":true},"encoding":{"x":{"field":"r","type":"quantitative","scale":{"type":"log","domain":[0.15,80],"nice":false},"axis":null},"y":{"field":"y","type":"quantitative","scale":{"domain":[-5,75],"nice":false,"zero":false},"axis":null},"yError":{"field":"e"}}},
{"mark":{"type":"point","filled":true,"color":"black","size":10,"opacity":1,"clip":true},"encoding":{"x":{"field":"r","type":"quantitative","scale":{"type":"log","domain":[0.15,80],"nice":false},"axis":null},"y":{"field":"y","type":"quantitative","scale":{"domain":[-5,75],"nice":false,"zero":false},"axis":null}}},
{"data":{"values":[{"a":"73","q":"v","lab":"73°"}]},"mark":{"type":"text","font":"Liberation Sans","fontSize":18,"align":"left","baseline":"alphabetic","color":"black"},"encoding":{"x":{"datum":0.42,"type":"quantitative","scale":{"type":"log","domain":[0.15,80],"nice":false},"axis":null},"y":{"datum":63.7,"type":"quantitative","scale":{"domain":[-5,75],"nice":false,"zero":false},"axis":null},"text":{"field":"lab"}}}
]},
{"width":305.5,"height":227,"transform":[{"filter":"datum.a=='0'&&datum.q=='s'"}],"resolve":{"axis":{"x":"independent","y":"independent"}},"layer":[
{"mark":{"type":"line","color":"black","strokeWidth":2.5,"clip":true},"encoding":{"x":{"field":"r","type":"quantitative","scale":{"type":"log","domain":[0.15,80],"nice":false},"axis":{"orient":"bottom","values":[0.2,0.3,0.4,0.5,0.6,0.7,0.8,0.9,1,2,3,4,5,6,7,8,9,10,20,30,40,50,60,70],"labels":false,"title":null,"tickSize":{"condition":{"test":"datum.value==1||datum.value==10","value":-10},"value":-5}}},"y":{"field":"k","type":"quantitative","scale":{"domain":[130,310],"nice":false,"zero":false},"axis":{"orient":"left","values":[140,150,160,170,180,190,200,210,220,230,240,250,260,270,280,290,300],"labels":false,"title":null,"tickSize":{"condition":{"test":"datum.value%50==0","value":-10},"value":-5}}}}},
{"mark":{"type":"line","color":"#1ee4e4","strokeWidth":5,"strokeDash":[12,5],"clip":true},"encoding":{"x":{"field":"r","type":"quantitative","scale":{"type":"log","domain":[0.15,80],"nice":false},"axis":{"orient":"top","values":[0.2,0.3,0.4,0.5,0.6,0.7,0.8,0.9,1,2,3,4,5,6,7,8,9,10,20,30,40,50,60,70],"labels":false,"title":null,"tickSize":{"condition":{"test":"datum.value==1||datum.value==10","value":-10},"value":-5}}},"y":{"field":"c","type":"quantitative","scale":{"domain":[130,310],"nice":false,"zero":false},"axis":{"orient":"right","values":[140,150,160,170,180,190,200,210,220,230,240,250,260,270,280,290,300],"labels":false,"title":null,"tickSize":{"condition":{"test":"datum.value%50==0","value":-10},"value":-5}}}}},
{"mark":{"type":"line","color":"#f0821e","strokeWidth":4,"strokeDash":[2,9],"strokeCap":"round","clip":true},"encoding":{"x":{"field":"r","type":"quantitative","scale":{"type":"log","domain":[0.15,80],"nice":false},"axis":null},"y":{"field":"o","type":"quantitative","scale":{"domain":[130,310],"nice":false,"zero":false},"axis":{"orient":"left","values":[150,200,250,300],"labelExpr":"format(datum.value,'~g')","ticks":false,"title":"σ","titleFontStyle":"italic","labelAngle":-90,"labelAlign":"center","labelBaseline":"bottom","labelPadding":5,"titlePadding":4}}}},
{"mark":{"type":"errorbar","color":"black","thickness":1.3,"ticks":{"size":5},"clip":true},"encoding":{"x":{"field":"r","type":"quantitative","scale":{"type":"log","domain":[0.15,80],"nice":false},"axis":null},"y":{"field":"y","type":"quantitative","scale":{"domain":[130,310],"nice":false,"zero":false},"axis":null},"yError":{"field":"e"}}},
{"mark":{"type":"point","filled":true,"color":"black","size":10,"opacity":1,"clip":true},"encoding":{"x":{"field":"r","type":"quantitative","scale":{"type":"log","domain":[0.15,80],"nice":false},"axis":null},"y":{"field":"y","type":"quantitative","scale":{"domain":[130,310],"nice":false,"zero":false},"axis":null}}},
{"data":{"values":[{"a":"0","q":"s","lab":"0°"}]},"mark":{"type":"text","font":"Liberation Sans","fontSize":18,"align":"right","baseline":"alphabetic","color":"black"},"encoding":{"x":{"datum":31.4,"type":"quantitative","scale":{"type":"log","domain":[0.15,80],"nice":false},"axis":null},"y":{"datum":289.2,"type":"quantitative","scale":{"domain":[130,310],"nice":false,"zero":false},"axis":null},"text":{"field":"lab"}}}
]},
{"width":305.5,"height":227,"transform":[{"filter":"datum.a=='18'&&datum.q=='s'"}],"resolve":{"axis":{"x":"independent","y":"independent"}},"layer":[
{"mark":{"type":"line","color":"black","strokeWidth":2.5,"clip":true},"encoding":{"x":{"field":"r","type":"quantitative","scale":{"type":"log","domain":[0.15,80],"nice":false},"axis":{"orient":"bottom","values":[0.2,0.3,0.4,0.5,0.6,0.7,0.8,0.9,1,2,3,4,5,6,7,8,9,10,20,30,40,50,60,70],"labels":false,"title":null,"tickSize":{"condition":{"test":"datum.value==1||datum.value==10","value":-10},"value":-5}}},"y":{"field":"k","type":"quantitative","scale":{"domain":[130,310],"nice":false,"zero":false},"axis":{"orient":"left","values":[140,150,160,170,180,190,200,210,220,230,240,250,260,270,280,290,300],"labels":false,"title":null,"tickSize":{"condition":{"test":"datum.value%50==0","value":-10},"value":-5}}}}},
{"mark":{"type":"line","color":"#1ee4e4","strokeWidth":5,"strokeDash":[12,5],"clip":true},"encoding":{"x":{"field":"r","type":"quantitative","scale":{"type":"log","domain":[0.15,80],"nice":false},"axis":{"orient":"top","values":[0.2,0.3,0.4,0.5,0.6,0.7,0.8,0.9,1,2,3,4,5,6,7,8,9,10,20,30,40,50,60,70],"labels":false,"title":null,"tickSize":{"condition":{"test":"datum.value==1||datum.value==10","value":-10},"value":-5}}},"y":{"field":"c","type":"quantitative","scale":{"domain":[130,310],"nice":false,"zero":false},"axis":{"orient":"right","values":[140,150,160,170,180,190,200,210,220,230,240,250,260,270,280,290,300],"labels":false,"title":null,"tickSize":{"condition":{"test":"datum.value%50==0","value":-10},"value":-5}}}}},
{"mark":{"type":"line","color":"#f0821e","strokeWidth":4,"strokeDash":[2,9],"strokeCap":"round","clip":true},"encoding":{"x":{"field":"r","type":"quantitative","scale":{"type":"log","domain":[0.15,80],"nice":false},"axis":null},"y":{"field":"o","type":"quantitative","scale":{"domain":[130,310],"nice":false,"zero":false},"axis":null}}},
{"mark":{"type":"errorbar","color":"black","thickness":1.3,"ticks":{"size":5},"clip":true},"encoding":{"x":{"field":"r","type":"quantitative","scale":{"type":"log","domain":[0.15,80],"nice":false},"axis":null},"y":{"field":"y","type":"quantitative","scale":{"domain":[130,310],"nice":false,"zero":false},"axis":null},"yError":{"field":"e"}}},
{"mark":{"type":"point","filled":true,"color":"black","size":10,"opacity":1,"clip":true},"encoding":{"x":{"field":"r","type":"quantitative","scale":{"type":"log","domain":[0.15,80],"nice":false},"axis":null},"y":{"field":"y","type":"quantitative","scale":{"domain":[130,310],"nice":false,"zero":false},"axis":null}}},
{"data":{"values":[{"a":"18","q":"s","lab":"18°"}]},"mark":{"type":"text","font":"Liberation Sans","fontSize":18,"align":"right","baseline":"alphabetic","color":"black"},"encoding":{"x":{"datum":31.4,"type":"quantitative","scale":{"type":"log","domain":[0.15,80],"nice":false},"axis":null},"y":{"datum":289.2,"type":"quantitative","scale":{"domain":[130,310],"nice":false,"zero":false},"axis":null},"text":{"field":"lab"}}}
]},
{"width":305.5,"height":227,"transform":[{"filter":"datum.a=='28'&&datum.q=='s'"}],"resolve":{"axis":{"x":"independent","y":"independent"}},"layer":[
{"mark":{"type":"line","color":"black","strokeWidth":2.5,"clip":true},"encoding":{"x":{"field":"r","type":"quantitative","scale":{"type":"log","domain":[0.15,80],"nice":false},"axis":{"orient":"bottom","values":[0.2,0.3,0.4,0.5,0.6,0.7,0.8,0.9,1,2,3,4,5,6,7,8,9,10,20,30,40,50,60,70],"labels":false,"title":null,"tickSize":{"condition":{"test":"datum.value==1||datum.value==10","value":-10},"value":-5}}},"y":{"field":"k","type":"quantitative","scale":{"domain":[130,310],"nice":false,"zero":false},"axis":{"orient":"left","values":[140,150,160,170,180,190,200,210,220,230,240,250,260,270,280,290,300],"labels":false,"title":null,"tickSize":{"condition":{"test":"datum.value%50==0","value":-10},"value":-5}}}}},
{"mark":{"type":"line","color":"#1ee4e4","strokeWidth":5,"strokeDash":[12,5],"clip":true},"encoding":{"x":{"field":"r","type":"quantitative","scale":{"type":"log","domain":[0.15,80],"nice":false},"axis":{"orient":"top","values":[0.2,0.3,0.4,0.5,0.6,0.7,0.8,0.9,1,2,3,4,5,6,7,8,9,10,20,30,40,50,60,70],"labels":false,"title":null,"tickSize":{"condition":{"test":"datum.value==1||datum.value==10","value":-10},"value":-5}}},"y":{"field":"c","type":"quantitative","scale":{"domain":[130,310],"nice":false,"zero":false},"axis":{"orient":"right","values":[140,150,160,170,180,190,200,210,220,230,240,250,260,270,280,290,300],"labels":false,"title":null,"tickSize":{"condition":{"test":"datum.value%50==0","value":-10},"value":-5}}}}},
{"mark":{"type":"line","color":"#f0821e","strokeWidth":4,"strokeDash":[2,9],"strokeCap":"round","clip":true},"encoding":{"x":{"field":"r","type":"quantitative","scale":{"type":"log","domain":[0.15,80],"nice":false},"axis":null},"y":{"field":"o","type":"quantitative","scale":{"domain":[130,310],"nice":false,"zero":false},"axis":null}}},
{"mark":{"type":"errorbar","color":"black","thickness":1.3,"ticks":{"size":5},"clip":true},"encoding":{"x":{"field":"r","type":"quantitative","scale":{"type":"log","domain":[0.15,80],"nice":false},"axis":null},"y":{"field":"y","type":"quantitative","scale":{"domain":[130,310],"nice":false,"zero":false},"axis":null},"yError":{"field":"e"}}},
{"mark":{"type":"point","filled":true,"color":"black","size":10,"opacity":1,"clip":true},"encoding":{"x":{"field":"r","type":"quantitative","scale":{"type":"log","domain":[0.15,80],"nice":false},"axis":null},"y":{"field":"y","type":"quantitative","scale":{"domain":[130,310],"nice":false,"zero":false},"axis":null}}},
{"data":{"values":[{"a":"28","q":"s","lab":"28°"}]},"mark":{"type":"text","font":"Liberation Sans","fontSize":18,"align":"right","baseline":"alphabetic","color":"black"},"encoding":{"x":{"datum":31.4,"type":"quantitative","scale":{"type":"log","domain":[0.15,80],"nice":false},"axis":null},"y":{"datum":289.2,"type":"quantitative","scale":{"domain":[130,310],"nice":false,"zero":false},"axis":null},"text":{"field":"lab"}}}
]},
{"width":305.5,"height":227,"transform":[{"filter":"datum.a=='73'&&datum.q=='s'"}],"resolve":{"axis":{"x":"independent","y":"independent"}},"layer":[
{"mark":{"type":"line","color":"black","strokeWidth":2.5,"clip":true},"encoding":{"x":{"field":"r","type":"quantitative","scale":{"type":"log","domain":[0.15,80],"nice":false},"axis":{"orient":"bottom","values":[0.2,0.3,0.4,0.5,0.6,0.7,0.8,0.9,1,2,3,4,5,6,7,8,9,10,20,30,40,50,60,70],"labels":false,"title":null,"tickSize":{"condition":{"test":"datum.value==1||datum.value==10","value":-10},"value":-5}}},"y":{"field":"k","type":"quantitative","scale":{"domain":[130,310],"nice":false,"zero":false},"axis":{"orient":"left","values":[140,150,160,170,180,190,200,210,220,230,240,250,260,270,280,290,300],"labels":false,"title":null,"tickSize":{"condition":{"test":"datum.value%50==0","value":-10},"value":-5}}}}},
{"mark":{"type":"line","color":"#1ee4e4","strokeWidth":5,"strokeDash":[12,5],"clip":true},"encoding":{"x":{"field":"r","type":"quantitative","scale":{"type":"log","domain":[0.15,80],"nice":false},"axis":{"orient":"top","values":[0.2,0.3,0.4,0.5,0.6,0.7,0.8,0.9,1,2,3,4,5,6,7,8,9,10,20,30,40,50,60,70],"labels":false,"title":null,"tickSize":{"condition":{"test":"datum.value==1||datum.value==10","value":-10},"value":-5}}},"y":{"field":"c","type":"quantitative","scale":{"domain":[130,310],"nice":false,"zero":false},"axis":{"orient":"right","values":[140,150,160,170,180,190,200,210,220,230,240,250,260,270,280,290,300],"labels":false,"title":null,"tickSize":{"condition":{"test":"datum.value%50==0","value":-10},"value":-5}}}}},
{"mark":{"type":"line","color":"#f0821e","strokeWidth":4,"strokeDash":[2,9],"strokeCap":"round","clip":true},"encoding":{"x":{"field":"r","type":"quantitative","scale":{"type":"log","domain":[0.15,80],"nice":false},"axis":null},"y":{"field":"o","type":"quantitative","scale":{"domain":[130,310],"nice":false,"zero":false},"axis":{"orient":"right","values":[150,200,250,300],"labelExpr":"format(datum.value,'~g')","ticks":false,"title":null,"labelAngle":-90,"labelAlign":"center","labelBaseline":"top","labelPadding":5}}}},
{"mark":{"type":"errorbar","color":"black","thickness":1.3,"ticks":{"size":5},"clip":true},"encoding":{"x":{"field":"r","type":"quantitative","scale":{"type":"log","domain":[0.15,80],"nice":false},"axis":null},"y":{"field":"y","type":"quantitative","scale":{"domain":[130,310],"nice":false,"zero":false},"axis":null},"yError":{"field":"e"}}},
{"mark":{"type":"point","filled":true,"color":"black","size":10,"opacity":1,"clip":true},"encoding":{"x":{"field":"r","type":"quantitative","scale":{"type":"log","domain":[0.15,80],"nice":false},"axis":null},"y":{"field":"y","type":"quantitative","scale":{"domain":[130,310],"nice":false,"zero":false},"axis":null}}},
{"data":{"values":[{"a":"73","q":"s","lab":"73°"}]},"mark":{"type":"text","font":"Liberation Sans","fontSize":18,"align":"right","baseline":"alphabetic","color":"black"},"encoding":{"x":{"datum":31.4,"type":"quantitative","scale":{"type":"log","domain":[0.15,80],"nice":false},"axis":null},"y":{"datum":289.2,"type":"quantitative","scale":{"domain":[130,310],"nice":false,"zero":false},"axis":null},"text":{"field":"lab"}}}
]},
{"width":305.5,"height":227,"transform":[{"filter":"datum.a=='0'&&datum.q=='h3'"}],"resolve":{"axis":{"x":"independent","y":"independent"}},"layer":[
{"mark":{"type":"line","color":"black","strokeWidth":2.5,"clip":true},"encoding":{"x":{"field":"r","type":"quantitative","scale":{"type":"log","domain":[0.15,80],"nice":false},"axis":{"orient":"bottom","values":[0.2,0.3,0.4,0.5,0.6,0.7,0.8,0.9,1,2,3,4,5,6,7,8,9,10,20,30,40,50,60,70],"labels":false,"title":null,"tickSize":{"condition":{"test":"datum.value==1||datum.value==10","value":-10},"value":-5}}},"y":{"field":"k","type":"quantitative","scale":{"domain":[-0.15,0.15],"nice":false,"zero":false},"axis":{"orient":"left","values":[-0.14,-0.12,-0.1,-0.08,-0.06,-0.04,-0.02,0,0.02,0.04,0.06,0.08,0.1,0.12,0.14],"labels":false,"title":null,"tickSize":{"condition":{"test":"abs(datum.value*10-round(datum.value*10))<0.001","value":-10},"value":-5}}}}},
{"mark":{"type":"line","color":"#1ee4e4","strokeWidth":5,"strokeDash":[12,5],"clip":true},"encoding":{"x":{"field":"r","type":"quantitative","scale":{"type":"log","domain":[0.15,80],"nice":false},"axis":{"orient":"top","values":[0.2,0.3,0.4,0.5,0.6,0.7,0.8,0.9,1,2,3,4,5,6,7,8,9,10,20,30,40,50,60,70],"labels":false,"title":null,"tickSize":{"condition":{"test":"datum.value==1||datum.value==10","value":-10},"value":-5}}},"y":{"field":"c","type":"quantitative","scale":{"domain":[-0.15,0.15],"nice":false,"zero":false},"axis":{"orient":"right","values":[-0.14,-0.12,-0.1,-0.08,-0.06,-0.04,-0.02,0,0.02,0.04,0.06,0.08,0.1,0.12,0.14],"labels":false,"title":null,"tickSize":{"condition":{"test":"abs(datum.value*10-round(datum.value*10))<0.001","value":-10},"value":-5}}}}},
{"mark":{"type":"line","color":"#f0821e","strokeWidth":4,"strokeDash":[2,9],"strokeCap":"round","clip":true},"encoding":{"x":{"field":"r","type":"quantitative","scale":{"type":"log","domain":[0.15,80],"nice":false},"axis":null},"y":{"field":"o","type":"quantitative","scale":{"domain":[-0.15,0.15],"nice":false,"zero":false},"axis":{"orient":"left","values":[-0.1,0,0.1],"labelExpr":"format(datum.value,'~g')","ticks":false,"title":"h3","labelAngle":-90,"labelAlign":"center","labelBaseline":"bottom","labelPadding":5,"titlePadding":4}}}},
{"mark":{"type":"errorbar","color":"black","thickness":1.3,"ticks":{"size":5},"clip":true},"encoding":{"x":{"field":"r","type":"quantitative","scale":{"type":"log","domain":[0.15,80],"nice":false},"axis":null},"y":{"field":"y","type":"quantitative","scale":{"domain":[-0.15,0.15],"nice":false,"zero":false},"axis":null},"yError":{"field":"e"}}},
{"mark":{"type":"point","filled":true,"color":"black","size":10,"opacity":1,"clip":true},"encoding":{"x":{"field":"r","type":"quantitative","scale":{"type":"log","domain":[0.15,80],"nice":false},"axis":null},"y":{"field":"y","type":"quantitative","scale":{"domain":[-0.15,0.15],"nice":false,"zero":false},"axis":null}}},
{"data":{"values":[{"a":"0","q":"h3","lab":"0°"}]},"mark":{"type":"text","font":"Liberation Sans","fontSize":18,"align":"right","baseline":"alphabetic","color":"black"},"encoding":{"x":{"datum":31.4,"type":"quantitative","scale":{"type":"log","domain":[0.15,80],"nice":false},"axis":null},"y":{"datum":0.112,"type":"quantitative","scale":{"domain":[-0.15,0.15],"nice":false,"zero":false},"axis":null},"text":{"field":"lab"}}}
]},
{"width":305.5,"height":227,"transform":[{"filter":"datum.a=='18'&&datum.q=='h3'"}],"resolve":{"axis":{"x":"independent","y":"independent"}},"layer":[
{"mark":{"type":"line","color":"black","strokeWidth":2.5,"clip":true},"encoding":{"x":{"field":"r","type":"quantitative","scale":{"type":"log","domain":[0.15,80],"nice":false},"axis":{"orient":"bottom","values":[0.2,0.3,0.4,0.5,0.6,0.7,0.8,0.9,1,2,3,4,5,6,7,8,9,10,20,30,40,50,60,70],"labels":false,"title":null,"tickSize":{"condition":{"test":"datum.value==1||datum.value==10","value":-10},"value":-5}}},"y":{"field":"k","type":"quantitative","scale":{"domain":[-0.15,0.15],"nice":false,"zero":false},"axis":{"orient":"left","values":[-0.14,-0.12,-0.1,-0.08,-0.06,-0.04,-0.02,0,0.02,0.04,0.06,0.08,0.1,0.12,0.14],"labels":false,"title":null,"tickSize":{"condition":{"test":"abs(datum.value*10-round(datum.value*10))<0.001","value":-10},"value":-5}}}}},
{"mark":{"type":"line","color":"#1ee4e4","strokeWidth":5,"strokeDash":[12,5],"clip":true},"encoding":{"x":{"field":"r","type":"quantitative","scale":{"type":"log","domain":[0.15,80],"nice":false},"axis":{"orient":"top","values":[0.2,0.3,0.4,0.5,0.6,0.7,0.8,0.9,1,2,3,4,5,6,7,8,9,10,20,30,40,50,60,70],"labels":false,"title":null,"tickSize":{"condition":{"test":"datum.value==1||datum.value==10","value":-10},"value":-5}}},"y":{"field":"c","type":"quantitative","scale":{"domain":[-0.15,0.15],"nice":false,"zero":false},"axis":{"orient":"right","values":[-0.14,-0.12,-0.1,-0.08,-0.06,-0.04,-0.02,0,0.02,0.04,0.06,0.08,0.1,0.12,0.14],"labels":false,"title":null,"tickSize":{"condition":{"test":"abs(datum.value*10-round(datum.value*10))<0.001","value":-10},"value":-5}}}}},
{"mark":{"type":"line","color":"#f0821e","strokeWidth":4,"strokeDash":[2,9],"strokeCap":"round","clip":true},"encoding":{"x":{"field":"r","type":"quantitative","scale":{"type":"log","domain":[0.15,80],"nice":false},"axis":null},"y":{"field":"o","type":"quantitative","scale":{"domain":[-0.15,0.15],"nice":false,"zero":false},"axis":null}}},
{"mark":{"type":"errorbar","color":"black","thickness":1.3,"ticks":{"size":5},"clip":true},"encoding":{"x":{"field":"r","type":"quantitative","scale":{"type":"log","domain":[0.15,80],"nice":false},"axis":null},"y":{"field":"y","type":"quantitative","scale":{"domain":[-0.15,0.15],"nice":false,"zero":false},"axis":null},"yError":{"field":"e"}}},
{"mark":{"type":"point","filled":true,"color":"black","size":10,"opacity":1,"clip":true},"encoding":{"x":{"field":"r","type":"quantitative","scale":{"type":"log","domain":[0.15,80],"nice":false},"axis":null},"y":{"field":"y","type":"quantitative","scale":{"domain":[-0.15,0.15],"nice":false,"zero":false},"axis":null}}},
{"data":{"values":[{"a":"18","q":"h3","lab":"18°"}]},"mark":{"type":"text","font":"Liberation Sans","fontSize":18,"align":"right","baseline":"alphabetic","color":"black"},"encoding":{"x":{"datum":31.4,"type":"quantitative","scale":{"type":"log","domain":[0.15,80],"nice":false},"axis":null},"y":{"datum":0.112,"type":"quantitative","scale":{"domain":[-0.15,0.15],"nice":false,"zero":false},"axis":null},"text":{"field":"lab"}}}
]},
{"width":305.5,"height":227,"transform":[{"filter":"datum.a=='28'&&datum.q=='h3'"}],"resolve":{"axis":{"x":"independent","y":"independent"}},"layer":[
{"mark":{"type":"line","color":"black","strokeWidth":2.5,"clip":true},"encoding":{"x":{"field":"r","type":"quantitative","scale":{"type":"log","domain":[0.15,80],"nice":false},"axis":{"orient":"bottom","values":[0.2,0.3,0.4,0.5,0.6,0.7,0.8,0.9,1,2,3,4,5,6,7,8,9,10,20,30,40,50,60,70],"labels":false,"title":null,"tickSize":{"condition":{"test":"datum.value==1||datum.value==10","value":-10},"value":-5}}},"y":{"field":"k","type":"quantitative","scale":{"domain":[-0.15,0.15],"nice":false,"zero":false},"axis":{"orient":"left","values":[-0.14,-0.12,-0.1,-0.08,-0.06,-0.04,-0.02,0,0.02,0.04,0.06,0.08,0.1,0.12,0.14],"labels":false,"title":null,"tickSize":{"condition":{"test":"abs(datum.value*10-round(datum.value*10))<0.001","value":-10},"value":-5}}}}},
{"mark":{"type":"line","color":"#1ee4e4","strokeWidth":5,"strokeDash":[12,5],"clip":true},"encoding":{"x":{"field":"r","type":"quantitative","scale":{"type":"log","domain":[0.15,80],"nice":false},"axis":{"orient":"top","values":[0.2,0.3,0.4,0.5,0.6,0.7,0.8,0.9,1,2,3,4,5,6,7,8,9,10,20,30,40,50,60,70],"labels":false,"title":null,"tickSize":{"condition":{"test":"datum.value==1||datum.value==10","value":-10},"value":-5}}},"y":{"field":"c","type":"quantitative","scale":{"domain":[-0.15,0.15],"nice":false,"zero":false},"axis":{"orient":"right","values":[-0.14,-0.12,-0.1,-0.08,-0.06,-0.04,-0.02,0,0.02,0.04,0.06,0.08,0.1,0.12,0.14],"labels":false,"title":null,"tickSize":{"condition":{"test":"abs(datum.value*10-round(datum.value*10))<0.001","value":-10},"value":-5}}}}},
{"mark":{"type":"line","color":"#f0821e","strokeWidth":4,"strokeDash":[2,9],"strokeCap":"round","clip":true},"encoding":{"x":{"field":"r","type":"quantitative","scale":{"type":"log","domain":[0.15,80],"nice":false},"axis":null},"y":{"field":"o","type":"quantitative","scale":{"domain":[-0.15,0.15],"nice":false,"zero":false},"axis":null}}},
{"mark":{"type":"errorbar","color":"black","thickness":1.3,"ticks":{"size":5},"clip":true},"encoding":{"x":{"field":"r","type":"quantitative","scale":{"type":"log","domain":[0.15,80],"nice":false},"axis":null},"y":{"field":"y","type":"quantitative","scale":{"domain":[-0.15,0.15],"nice":false,"zero":false},"axis":null},"yError":{"field":"e"}}},
{"mark":{"type":"point","filled":true,"color":"black","size":10,"opacity":1,"clip":true},"encoding":{"x":{"field":"r","type":"quantitative","scale":{"type":"log","domain":[0.15,80],"nice":false},"axis":null},"y":{"field":"y","type":"quantitative","scale":{"domain":[-0.15,0.15],"nice":false,"zero":false},"axis":null}}},
{"data":{"values":[{"a":"28","q":"h3","lab":"28°"}]},"mark":{"type":"text","font":"Liberation Sans","fontSize":18,"align":"right","baseline":"alphabetic","color":"black"},"encoding":{"x":{"datum":31.4,"type":"quantitative","scale":{"type":"log","domain":[0.15,80],"nice":false},"axis":null},"y":{"datum":0.112,"type":"quantitative","scale":{"domain":[-0.15,0.15],"nice":false,"zero":false},"axis":null},"text":{"field":"lab"}}}
]},
{"width":305.5,"height":227,"transform":[{"filter":"datum.a=='73'&&datum.q=='h3'"}],"resolve":{"axis":{"x":"independent","y":"independent"}},"layer":[
{"mark":{"type":"line","color":"black","strokeWidth":2.5,"clip":true},"encoding":{"x":{"field":"r","type":"quantitative","scale":{"type":"log","domain":[0.15,80],"nice":false},"axis":{"orient":"bottom","values":[0.2,0.3,0.4,0.5,0.6,0.7,0.8,0.9,1,2,3,4,5,6,7,8,9,10,20,30,40,50,60,70],"labels":false,"title":null,"tickSize":{"condition":{"test":"datum.value==1||datum.value==10","value":-10},"value":-5}}},"y":{"field":"k","type":"quantitative","scale":{"domain":[-0.15,0.15],"nice":false,"zero":false},"axis":{"orient":"left","values":[-0.14,-0.12,-0.1,-0.08,-0.06,-0.04,-0.02,0,0.02,0.04,0.06,0.08,0.1,0.12,0.14],"labels":false,"title":null,"tickSize":{"condition":{"test":"abs(datum.value*10-round(datum.value*10))<0.001","value":-10},"value":-5}}}}},
{"mark":{"type":"line","color":"#1ee4e4","strokeWidth":5,"strokeDash":[12,5],"clip":true},"encoding":{"x":{"field":"r","type":"quantitative","scale":{"type":"log","domain":[0.15,80],"nice":false},"axis":{"orient":"top","values":[0.2,0.3,0.4,0.5,0.6,0.7,0.8,0.9,1,2,3,4,5,6,7,8,9,10,20,30,40,50,60,70],"labels":false,"title":null,"tickSize":{"condition":{"test":"datum.value==1||datum.value==10","value":-10},"value":-5}}},"y":{"field":"c","type":"quantitative","scale":{"domain":[-0.15,0.15],"nice":false,"zero":false},"axis":{"orient":"right","values":[-0.14,-0.12,-0.1,-0.08,-0.06,-0.04,-0.02,0,0.02,0.04,0.06,0.08,0.1,0.12,0.14],"labels":false,"title":null,"tickSize":{"condition":{"test":"abs(datum.value*10-round(datum.value*10))<0.001","value":-10},"value":-5}}}}},
{"mark":{"type":"line","color":"#f0821e","strokeWidth":4,"strokeDash":[2,9],"strokeCap":"round","clip":true},"encoding":{"x":{"field":"r","type":"quantitative","scale":{"type":"log","domain":[0.15,80],"nice":false},"axis":null},"y":{"field":"o","type":"quantitative","scale":{"domain":[-0.15,0.15],"nice":false,"zero":false},"axis":{"orient":"right","values":[-0.1,0,0.1],"labelExpr":"format(datum.value,'~g')","ticks":false,"title":null,"labelAngle":-90,"labelAlign":"center","labelBaseline":"top","labelPadding":5}}}},
{"mark":{"type":"errorbar","color":"black","thickness":1.3,"ticks":{"size":5},"clip":true},"encoding":{"x":{"field":"r","type":"quantitative","scale":{"type":"log","domain":[0.15,80],"nice":false},"axis":null},"y":{"field":"y","type":"quantitative","scale":{"domain":[-0.15,0.15],"nice":false,"zero":false},"axis":null},"yError":{"field":"e"}}},
{"mark":{"type":"point","filled":true,"color":"black","size":10,"opacity":1,"clip":true},"encoding":{"x":{"field":"r","type":"quantitative","scale":{"type":"log","domain":[0.15,80],"nice":false},"axis":null},"y":{"field":"y","type":"quantitative","scale":{"domain":[-0.15,0.15],"nice":false,"zero":false},"axis":null}}},
{"data":{"values":[{"a":"73","q":"h3","lab":"73°"}]},"mark":{"type":"text","font":"Liberation Sans","fontSize":18,"align":"right","baseline":"alphabetic","color":"black"},"encoding":{"x":{"datum":31.4,"type":"quantitative","scale":{"type":"log","domain":[0.15,80],"nice":false},"axis":null},"y":{"datum":0.112,"type":"quantitative","scale":{"domain":[-0.15,0.15],"nice":false,"zero":false},"axis":null},"text":{"field":"lab"}}}
]},
{"width":305.5,"height":227,"transform":[{"filter":"datum.a=='0'&&datum.q=='h4'"}],"resolve":{"axis":{"x":"independent","y":"independent"}},"layer":[
{"mark":{"type":"line","color":"black","strokeWidth":2.5,"clip":true},"encoding":{"x":{"field":"r","type":"quantitative","scale":{"type":"log","domain":[0.15,80],"nice":false},"axis":{"orient":"bottom","values":[0.2,0.3,0.4,0.5,0.6,0.7,0.8,0.9,1,2,3,4,5,6,7,8,9,10,20,30,40,50,60,70],"labels":false,"title":null,"tickSize":{"condition":{"test":"datum.value==1||datum.value==10","value":-10},"value":-5}}},"y":{"field":"k","type":"quantitative","scale":{"domain":[-0.12,0.12],"nice":false,"zero":false},"axis":{"orient":"left","values":[-0.11,-0.1,-0.09,-0.08,-0.07,-0.06,-0.05,-0.04,-0.03,-0.02,-0.01,0,0.01,0.02,0.03,0.04,0.05,0.06,0.07,0.08,0.09,0.1,0.11],"labels":false,"title":null,"tickSize":{"condition":{"test":"abs(datum.value*20-round(datum.value*20))<0.001","value":-10},"value":-5}}}}},
{"mark":{"type":"line","color":"#1ee4e4","strokeWidth":5,"strokeDash":[12,5],"clip":true},"encoding":{"x":{"field":"r","type":"quantitative","scale":{"type":"log","domain":[0.15,80],"nice":false},"axis":{"orient":"top","values":[0.2,0.3,0.4,0.5,0.6,0.7,0.8,0.9,1,2,3,4,5,6,7,8,9,10,20,30,40,50,60,70],"labels":false,"title":null,"tickSize":{"condition":{"test":"datum.value==1||datum.value==10","value":-10},"value":-5}}},"y":{"field":"c","type":"quantitative","scale":{"domain":[-0.12,0.12],"nice":false,"zero":false},"axis":{"orient":"right","values":[-0.11,-0.1,-0.09,-0.08,-0.07,-0.06,-0.05,-0.04,-0.03,-0.02,-0.01,0,0.01,0.02,0.03,0.04,0.05,0.06,0.07,0.08,0.09,0.1,0.11],"labels":false,"title":null,"tickSize":{"condition":{"test":"abs(datum.value*20-round(datum.value*20))<0.001","value":-10},"value":-5}}}}},
{"mark":{"type":"line","color":"#f0821e","strokeWidth":4,"strokeDash":[2,9],"strokeCap":"round","clip":true},"encoding":{"x":{"field":"r","type":"quantitative","scale":{"type":"log","domain":[0.15,80],"nice":false},"axis":{"orient":"bottom","values":[1,10],"labelExpr":"format(datum.value,'~g')","ticks":false,"title":"Radius","labelPadding":13,"titlePadding":-8}},"y":{"field":"o","type":"quantitative","scale":{"domain":[-0.12,0.12],"nice":false,"zero":false},"axis":{"orient":"left","values":[-0.1,-0.05,0,0.05,0.1],"labelExpr":"format(datum.value,'~g')","ticks":false,"title":"h4","labelAngle":-90,"labelAlign":"center","labelBaseline":"bottom","labelPadding":5,"titlePadding":4}}}},
{"mark":{"type":"errorbar","color":"black","thickness":1.3,"ticks":{"size":5},"clip":true},"encoding":{"x":{"field":"r","type":"quantitative","scale":{"type":"log","domain":[0.15,80],"nice":false},"axis":null},"y":{"field":"y","type":"quantitative","scale":{"domain":[-0.12,0.12],"nice":false,"zero":false},"axis":null},"yError":{"field":"e"}}},
{"mark":{"type":"point","filled":true,"color":"black","size":10,"opacity":1,"clip":true},"encoding":{"x":{"field":"r","type":"quantitative","scale":{"type":"log","domain":[0.15,80],"nice":false},"axis":null},"y":{"field":"y","type":"quantitative","scale":{"domain":[-0.12,0.12],"nice":false,"zero":false},"axis":null}}},
{"data":{"values":[{"a":"0","q":"h4","lab":"0°"}]},"mark":{"type":"text","font":"Liberation Sans","fontSize":18,"align":"right","baseline":"alphabetic","color":"black"},"encoding":{"x":{"datum":31.4,"type":"quantitative","scale":{"type":"log","domain":[0.15,80],"nice":false},"axis":null},"y":{"datum":0.0884,"type":"quantitative","scale":{"domain":[-0.12,0.12],"nice":false,"zero":false},"axis":null},"text":{"field":"lab"}}}
]},
{"width":305.5,"height":227,"transform":[{"filter":"datum.a=='18'&&datum.q=='h4'"}],"resolve":{"axis":{"x":"independent","y":"independent"}},"layer":[
{"mark":{"type":"line","color":"black","strokeWidth":2.5,"clip":true},"encoding":{"x":{"field":"r","type":"quantitative","scale":{"type":"log","domain":[0.15,80],"nice":false},"axis":{"orient":"bottom","values":[0.2,0.3,0.4,0.5,0.6,0.7,0.8,0.9,1,2,3,4,5,6,7,8,9,10,20,30,40,50,60,70],"labels":false,"title":null,"tickSize":{"condition":{"test":"datum.value==1||datum.value==10","value":-10},"value":-5}}},"y":{"field":"k","type":"quantitative","scale":{"domain":[-0.12,0.12],"nice":false,"zero":false},"axis":{"orient":"left","values":[-0.11,-0.1,-0.09,-0.08,-0.07,-0.06,-0.05,-0.04,-0.03,-0.02,-0.01,0,0.01,0.02,0.03,0.04,0.05,0.06,0.07,0.08,0.09,0.1,0.11],"labels":false,"title":null,"tickSize":{"condition":{"test":"abs(datum.value*20-round(datum.value*20))<0.001","value":-10},"value":-5}}}}},
{"mark":{"type":"line","color":"#1ee4e4","strokeWidth":5,"strokeDash":[12,5],"clip":true},"encoding":{"x":{"field":"r","type":"quantitative","scale":{"type":"log","domain":[0.15,80],"nice":false},"axis":{"orient":"top","values":[0.2,0.3,0.4,0.5,0.6,0.7,0.8,0.9,1,2,3,4,5,6,7,8,9,10,20,30,40,50,60,70],"labels":false,"title":null,"tickSize":{"condition":{"test":"datum.value==1||datum.value==10","value":-10},"value":-5}}},"y":{"field":"c","type":"quantitative","scale":{"domain":[-0.12,0.12],"nice":false,"zero":false},"axis":{"orient":"right","values":[-0.11,-0.1,-0.09,-0.08,-0.07,-0.06,-0.05,-0.04,-0.03,-0.02,-0.01,0,0.01,0.02,0.03,0.04,0.05,0.06,0.07,0.08,0.09,0.1,0.11],"labels":false,"title":null,"tickSize":{"condition":{"test":"abs(datum.value*20-round(datum.value*20))<0.001","value":-10},"value":-5}}}}},
{"mark":{"type":"line","color":"#f0821e","strokeWidth":4,"strokeDash":[2,9],"strokeCap":"round","clip":true},"encoding":{"x":{"field":"r","type":"quantitative","scale":{"type":"log","domain":[0.15,80],"nice":false},"axis":{"orient":"bottom","values":[1,10],"labelExpr":"format(datum.value,'~g')","ticks":false,"title":"Radius","labelPadding":13,"titlePadding":-8}},"y":{"field":"o","type":"quantitative","scale":{"domain":[-0.12,0.12],"nice":false,"zero":false},"axis":null}}},
{"mark":{"type":"errorbar","color":"black","thickness":1.3,"ticks":{"size":5},"clip":true},"encoding":{"x":{"field":"r","type":"quantitative","scale":{"type":"log","domain":[0.15,80],"nice":false},"axis":null},"y":{"field":"y","type":"quantitative","scale":{"domain":[-0.12,0.12],"nice":false,"zero":false},"axis":null},"yError":{"field":"e"}}},
{"mark":{"type":"point","filled":true,"color":"black","size":10,"opacity":1,"clip":true},"encoding":{"x":{"field":"r","type":"quantitative","scale":{"type":"log","domain":[0.15,80],"nice":false},"axis":null},"y":{"field":"y","type":"quantitative","scale":{"domain":[-0.12,0.12],"nice":false,"zero":false},"axis":null}}},
{"data":{"values":[{"a":"18","q":"h4","lab":"18°"}]},"mark":{"type":"text","font":"Liberation Sans","fontSize":18,"align":"right","baseline":"alphabetic","color":"black"},"encoding":{"x":{"datum":31.4,"type":"quantitative","scale":{"type":"log","domain":[0.15,80],"nice":false},"axis":null},"y":{"datum":0.0884,"type":"quantitative","scale":{"domain":[-0.12,0.12],"nice":false,"zero":false},"axis":null},"text":{"field":"lab"}}}
]},
{"width":305.5,"height":227,"transform":[{"filter":"datum.a=='28'&&datum.q=='h4'"}],"resolve":{"axis":{"x":"independent","y":"independent"}},"layer":[
{"mark":{"type":"line","color":"black","strokeWidth":2.5,"clip":true},"encoding":{"x":{"field":"r","type":"quantitative","scale":{"type":"log","domain":[0.15,80],"nice":false},"axis":{"orient":"bottom","values":[0.2,0.3,0.4,0.5,0.6,0.7,0.8,0.9,1,2,3,4,5,6,7,8,9,10,20,30,40,50,60,70],"labels":false,"title":null,"tickSize":{"condition":{"test":"datum.value==1||datum.value==10","value":-10},"value":-5}}},"y":{"field":"k","type":"quantitative","scale":{"domain":[-0.12,0.12],"nice":false,"zero":false},"axis":{"orient":"left","values":[-0.11,-0.1,-0.09,-0.08,-0.07,-0.06,-0.05,-0.04,-0.03,-0.02,-0.01,0,0.01,0.02,0.03,0.04,0.05,0.06,0.07,0.08,0.09,0.1,0.11],"labels":false,"title":null,"tickSize":{"condition":{"test":"abs(datum.value*20-round(datum.value*20))<0.001","value":-10},"value":-5}}}}},
{"mark":{"type":"line","color":"#1ee4e4","strokeWidth":5,"strokeDash":[12,5],"clip":true},"encoding":{"x":{"field":"r","type":"quantitative","scale":{"type":"log","domain":[0.15,80],"nice":false},"axis":{"orient":"top","values":[0.2,0.3,0.4,0.5,0.6,0.7,0.8,0.9,1,2,3,4,5,6,7,8,9,10,20,30,40,50,60,70],"labels":false,"title":null,"tickSize":{"condition":{"test":"datum.value==1||datum.value==10","value":-10},"value":-5}}},"y":{"field":"c","type":"quantitative","scale":{"domain":[-0.12,0.12],"nice":false,"zero":false},"axis":{"orient":"right","values":[-0.11,-0.1,-0.09,-0.08,-0.07,-0.06,-0.05,-0.04,-0.03,-0.02,-0.01,0,0.01,0.02,0.03,0.04,0.05,0.06,0.07,0.08,0.09,0.1,0.11],"labels":false,"title":null,"tickSize":{"condition":{"test":"abs(datum.value*20-round(datum.value*20))<0.001","value":-10},"value":-5}}}}},
{"mark":{"type":"line","color":"#f0821e","strokeWidth":4,"strokeDash":[2,9],"strokeCap":"round","clip":true},"encoding":{"x":{"field":"r","type":"quantitative","scale":{"type":"log","domain":[0.15,80],"nice":false},"axis":{"orient":"bottom","values":[1,10],"labelExpr":"format(datum.value,'~g')","ticks":false,"title":"Radius","labelPadding":13,"titlePadding":-8}},"y":{"field":"o","type":"quantitative","scale":{"domain":[-0.12,0.12],"nice":false,"zero":false},"axis":null}}},
{"mark":{"type":"errorbar","color":"black","thickness":1.3,"ticks":{"size":5},"clip":true},"encoding":{"x":{"field":"r","type":"quantitative","scale":{"type":"log","domain":[0.15,80],"nice":false},"axis":null},"y":{"field":"y","type":"quantitative","scale":{"domain":[-0.12,0.12],"nice":false,"zero":false},"axis":null},"yError":{"field":"e"}}},
{"mark":{"type":"point","filled":true,"color":"black","size":10,"opacity":1,"clip":true},"encoding":{"x":{"field":"r","type":"quantitative","scale":{"type":"log","domain":[0.15,80],"nice":false},"axis":null},"y":{"field":"y","type":"quantitative","scale":{"domain":[-0.12,0.12],"nice":false,"zero":false},"axis":null}}},
{"data":{"values":[{"a":"28","q":"h4","lab":"28°"}]},"mark":{"type":"text","font":"Liberation Sans","fontSize":18,"align":"right","baseline":"alphabetic","color":"black"},"encoding":{"x":{"datum":31.4,"type":"quantitative","scale":{"type":"log","domain":[0.15,80],"nice":false},"axis":null},"y":{"datum":0.0884,"type":"quantitative","scale":{"domain":[-0.12,0.12],"nice":false,"zero":false},"axis":null},"text":{"field":"lab"}}}
]},
{"width":305.5,"height":227,"transform":[{"filter":"datum.a=='73'&&datum.q=='h4'"}],"resolve":{"axis":{"x":"independent","y":"independent"}},"layer":[
{"mark":{"type":"line","color":"black","strokeWidth":2.5,"clip":true},"encoding":{"x":{"field":"r","type":"quantitative","scale":{"type":"log","domain":[0.15,80],"nice":false},"axis":{"orient":"bottom","values":[0.2,0.3,0.4,0.5,0.6,0.7,0.8,0.9,1,2,3,4,5,6,7,8,9,10,20,30,40,50,60,70],"labels":false,"title":null,"tickSize":{"condition":{"test":"datum.value==1||datum.value==10","value":-10},"value":-5}}},"y":{"field":"k","type":"quantitative","scale":{"domain":[-0.12,0.12],"nice":false,"zero":false},"axis":{"orient":"left","values":[-0.11,-0.1,-0.09,-0.08,-0.07,-0.06,-0.05,-0.04,-0.03,-0.02,-0.01,0,0.01,0.02,0.03,0.04,0.05,0.06,0.07,0.08,0.09,0.1,0.11],"labels":false,"title":null,"tickSize":{"condition":{"test":"abs(datum.value*20-round(datum.value*20))<0.001","value":-10},"value":-5}}}}},
{"mark":{"type":"line","color":"#1ee4e4","strokeWidth":5,"strokeDash":[12,5],"clip":true},"encoding":{"x":{"field":"r","type":"quantitative","scale":{"type":"log","domain":[0.15,80],"nice":false},"axis":{"orient":"top","values":[0.2,0.3,0.4,0.5,0.6,0.7,0.8,0.9,1,2,3,4,5,6,7,8,9,10,20,30,40,50,60,70],"labels":false,"title":null,"tickSize":{"condition":{"test":"datum.value==1||datum.value==10","value":-10},"value":-5}}},"y":{"field":"c","type":"quantitative","scale":{"domain":[-0.12,0.12],"nice":false,"zero":false},"axis":{"orient":"right","values":[-0.11,-0.1,-0.09,-0.08,-0.07,-0.06,-0.05,-0.04,-0.03,-0.02,-0.01,0,0.01,0.02,0.03,0.04,0.05,0.06,0.07,0.08,0.09,0.1,0.11],"labels":false,"title":null,"tickSize":{"condition":{"test":"abs(datum.value*20-round(datum.value*20))<0.001","value":-10},"value":-5}}}}},
{"mark":{"type":"line","color":"#f0821e","strokeWidth":4,"strokeDash":[2,9],"strokeCap":"round","clip":true},"encoding":{"x":{"field":"r","type":"quantitative","scale":{"type":"log","domain":[0.15,80],"nice":false},"axis":{"orient":"bottom","values":[1,10],"labelExpr":"format(datum.value,'~g')","ticks":false,"title":"Radius","labelPadding":13,"titlePadding":-8}},"y":{"field":"o","type":"quantitative","scale":{"domain":[-0.12,0.12],"nice":false,"zero":false},"axis":{"orient":"right","values":[-0.1,-0.05,0,0.05,0.1],"labelExpr":"format(datum.value,'~g')","ticks":false,"title":null,"labelAngle":-90,"labelAlign":"center","labelBaseline":"top","labelPadding":5}}}},
{"mark":{"type":"errorbar","color":"black","thickness":1.3,"ticks":{"size":5},"clip":true},"encoding":{"x":{"field":"r","type":"quantitative","scale":{"type":"log","domain":[0.15,80],"nice":false},"axis":null},"y":{"field":"y","type":"quantitative","scale":{"domain":[-0.12,0.12],"nice":false,"zero":false},"axis":null},"yError":{"field":"e"}}},
{"mark":{"type":"point","filled":true,"color":"black","size":10,"opacity":1,"clip":true},"encoding":{"x":{"field":"r","type":"quantitative","scale":{"type":"log","domain":[0.15,80],"nice":false},"axis":null},"y":{"field":"y","type":"quantitative","scale":{"domain":[-0.12,0.12],"nice":false,"zero":false},"axis":null}}},
{"data":{"values":[{"a":"73","q":"h4","lab":"73°"}]},"mark":{"type":"text","font":"Liberation Sans","fontSize":18,"align":"right","baseline":"alphabetic","color":"black"},"encoding":{"x":{"datum":31.4,"type":"quantitative","scale":{"type":"log","domain":[0.15,80],"nice":false},"axis":null},"y":{"datum":0.0884,"type":"quantitative","scale":{"domain":[-0.12,0.12],"nice":false,"zero":false},"axis":null},"text":{"field":"lab"}}}
]}
],
"config": {
"view": {"stroke": "black", "strokeWidth": 1.5},
"axis": {"labelFont": "DejaVu Serif", "labelFontSize": 12, "labelColor": "black", "titleFont": "DejaVu Serif", "titleFontSize": 17, "titleFontWeight": "normal", "titleColor": "black", "tickColor": "black", "tickWidth": 1.3, "domain": false, "grid": false, "labelOverlap": false, "labelFlush": false}
}
}
